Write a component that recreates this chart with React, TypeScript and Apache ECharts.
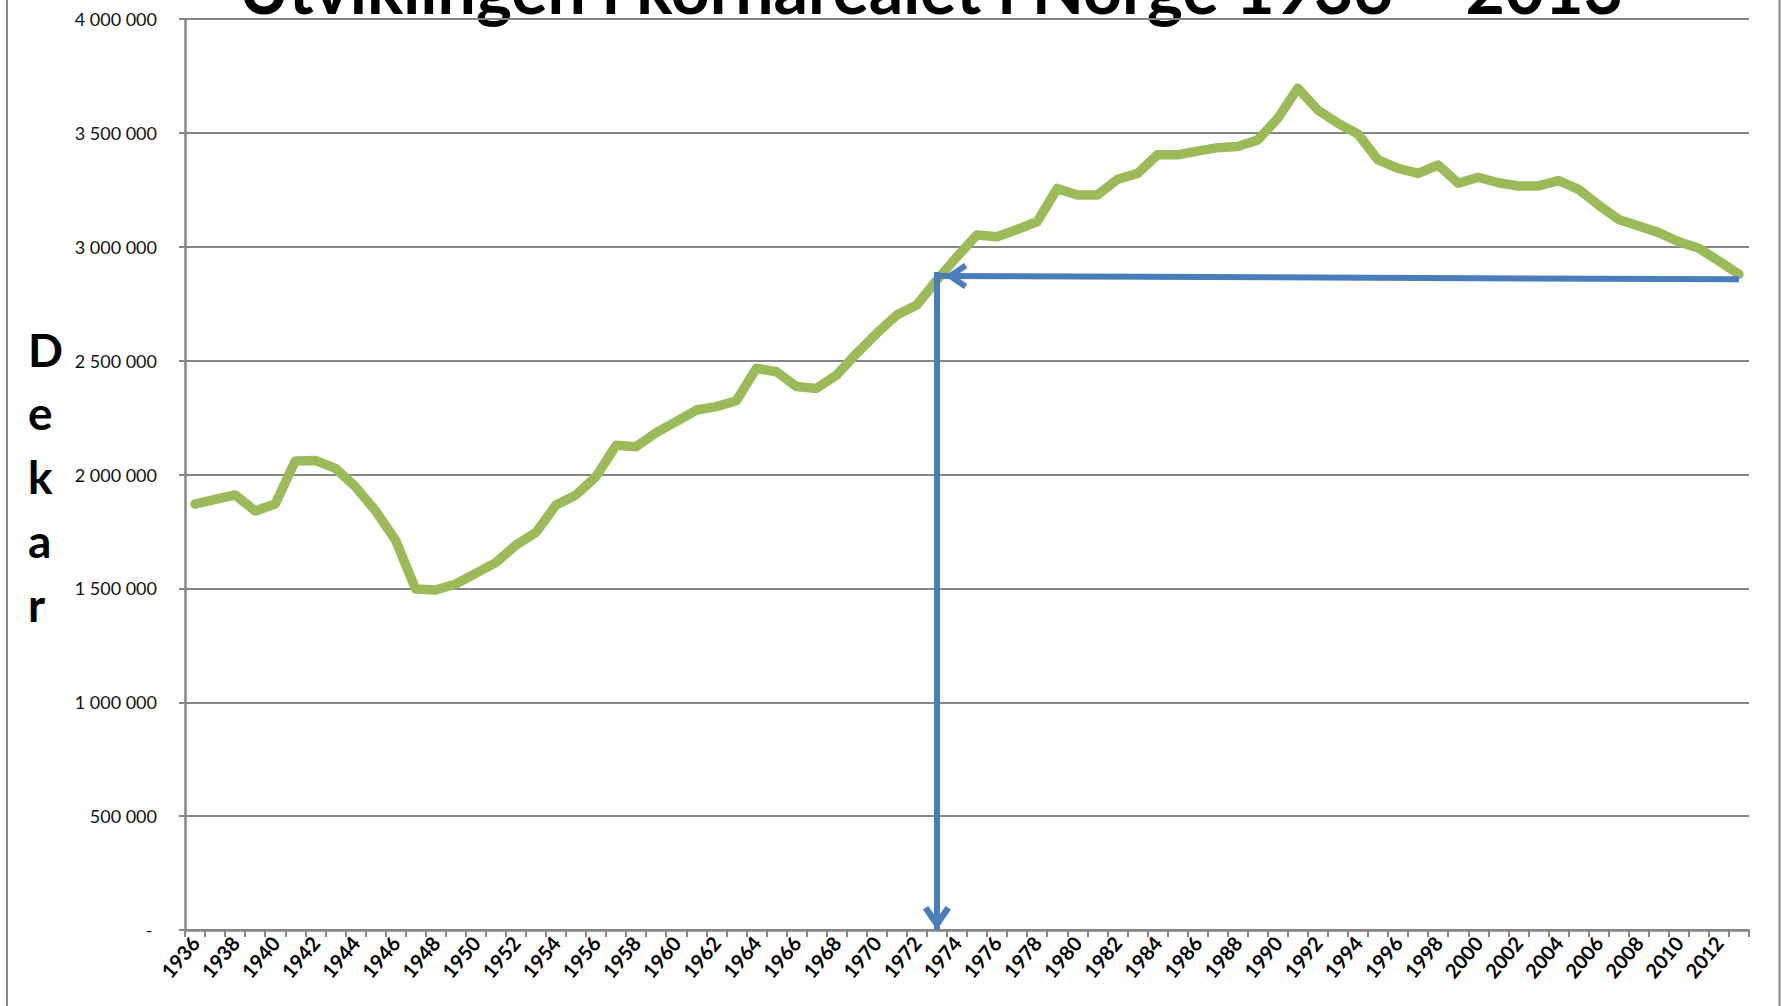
import React, { useEffect, useRef } from 'react';
import * as echarts from 'echarts';

const years = [
  '1936', '1937', '1938', '1939', '1940', '1941', '1942', '1943', '1944', '1945',
  '1946', '1947', '1948', '1949', '1950', '1951', '1952', '1953', '1954', '1955',
  '1956', '1957', '1958', '1959', '1960', '1961', '1962', '1963', '1964', '1965',
  '1966', '1967', '1968', '1969', '1970', '1971', '1972', '1973', '1974', '1975',
  '1976', '1977', '1978', '1979', '1980', '1981', '1982', '1983', '1984', '1985',
  '1986', '1987', '1988', '1989', '1990', '1991', '1992', '1993', '1994', '1995',
  '1996', '1997', '1998', '1999', '2000', '2001', '2002', '2003', '2004', '2005',
  '2006', '2007', '2008', '2009', '2010', '2011', '2012', '2013',
];

// Kornareal i dekar
const kornareal = [
  1870000, 1891000, 1910000, 1840000, 1870000, 2059000, 2062000, 2027000, 1946000, 1841000,
  1712000, 1497000, 1493000, 1519000, 1566000, 1613000, 1690000, 1745000, 1866000, 1910000,
  1991000, 2128000, 2122000, 2184000, 2232000, 2283000, 2298000, 2324000, 2466000, 2451000,
  2386000, 2378000, 2437000, 2532000, 2620000, 2700000, 2744000, 2854000, 2956000, 3052000,
  3044000, 3076000, 3110000, 3256000, 3227000, 3227000, 3295000, 3322000, 3404000, 3404000,
  3420000, 3435000, 3440000, 3469000, 3564000, 3696000, 3600000, 3542000, 3495000, 3381000,
  3344000, 3322000, 3359000, 3279000, 3305000, 3281000, 3267000, 3267000, 3290000, 3252000,
  3183000, 3120000, 3091000, 3062000, 3022000, 2993000, 2937000, 2879000,
];

const yMin = 0;
const yMax = 4000000;
const yStep = 500000;

const titleText = 'Utviklingen i kornarealet i Norge 1936 – 2013';
const yTitleLetters = ['D', 'e', 'k', 'a', 'r'];

// Annotation arrows (data coordinates)
const arrowDownYear = '1973';
const arrowDownFrom = 2889000;
const arrowDownTo = 0;
const arrowLeftFromYear = '2013';
const arrowLeftFromValue = 2857000;
const arrowLeftToYear = '1973';
const arrowLeftToValue = 2872000;

const chevCentered =
  'path://M13,0 L26,19 L21.05,22.39 L13,10.62 L4.95,22.39 L0,19 Z M13,-22.4 L13.01,-22.4 L13,-22.38 Z';
const chevOffset =
  'path://M13,0 L26,19 L21.05,22.39 L13,10.62 L4.95,22.39 L0,19 Z M13,-38.4 L13.01,-38.4 L13,-38.38 Z';

const fmt = (v: number) =>
  v === 0 ? '-\u00a0' : String(v).replace(/\B(?=(\d{3})+(?!\d))/g, ' ');

export default function App() {
  const ref = useRef<HTMLDivElement>(null);

  useEffect(() => {
    if (!ref.current) return;
    const chart = echarts.init(ref.current, undefined, { renderer: 'svg' });
    const gray = '#868686';
    const F_TITLE = 68;
    const F_Y = 46;
    const letterGraphics = yTitleLetters.map((ch, i) => ({
      type: 'text',
      x: 28,
      y: 349 + i * 63.75,
      style: {
        text: ch,
        fontFamily: 'Lato',
        fontWeight: 'bold',
        fontSize: F_Y,
        fill: '#000',
        align: 'left',
        verticalAlign: 'middle',
      },
    }));
    chart.setOption({
      animation: false,
      backgroundColor: '#ffffff',
      grid: { left: 185, right: 32, top: 19, bottom: 76, containLabel: false },
      xAxis: {
        type: 'category',
        data: years,
        boundaryGap: true,
        axisLine: { show: true, lineStyle: { color: gray, width: 2.5 } },
        axisTick: { show: true, interval: 0, length: 7, lineStyle: { color: gray, width: 2 } },
        axisLabel: {
          interval: 1,
          rotate: 50,
          margin: 9,
          fontFamily: 'Lato',
          fontWeight: 'bold',
          fontSize: 20,
          color: '#000',
        },
        splitLine: { show: false },
      },
      yAxis: {
        type: 'value',
        min: yMin,
        max: yMax,
        interval: yStep,
        axisLine: { show: true, lineStyle: { color: gray, width: 2.5 } },
        axisTick: { show: true, length: 6, lineStyle: { color: gray, width: 2 } },
        axisLabel: {
          formatter: fmt,
          margin: 28,
          fontFamily: 'Lato',
          fontSize: 18,
          color: '#111',
        },
        splitLine: { show: true, lineStyle: { color: gray, width: 2 } },
      },
      graphic: [
        {
          type: 'text',
          x: 931,
          y: 14 - 0.387 * F_TITLE,
          style: {
            text: titleText,
            fontFamily: 'Lato',
            fontWeight: 'bold',
            fontSize: F_TITLE,
            fill: '#000',
            align: 'center',
            verticalAlign: 'middle',
          },
        },
        ...letterGraphics,
        { type: 'line', shape: { x1: 7, y1: 0, x2: 7, y2: 1006 }, style: { stroke: gray, lineWidth: 2 } },
        { type: 'line', shape: { x1: 1779.5, y1: 0, x2: 1779.5, y2: 1006 }, style: { stroke: gray, lineWidth: 2 } },
      ],
      series: [
        {
          type: 'line',
          data: kornareal,
          showSymbol: false,
          symbol: 'none',
          lineStyle: { color: '#9BBB59', width: 9.5, cap: 'round', join: 'round' },
          emphasis: { disabled: true },
          markLine: {
            silent: true,
            animation: false,
            label: { show: false },
            emphasis: { disabled: true },
            lineStyle: { color: '#4A7EBB', width: 6, type: 'solid', opacity: 1 },
            data: [
              [
                { coord: [arrowDownYear, arrowDownFrom], symbol: 'none' },
                { coord: [arrowDownYear, arrowDownTo], symbol: chevCentered, symbolSize: [28, 48.2] },
              ],
              [
                { coord: [arrowLeftFromYear, arrowLeftFromValue], symbol: 'none' },
                { coord: [arrowLeftToYear, arrowLeftToValue], symbol: chevOffset, symbolSize: [26, 60.8] },
              ],
            ],
          },
        },
      ],
    });
    return () => chart.dispose();
  }, []);

  return (
    <div
      ref={ref}
      style={{ position: 'absolute', left: 0, top: 0, width: 1781, height: 1006, background: '#fff' }}
    />
  );
}
